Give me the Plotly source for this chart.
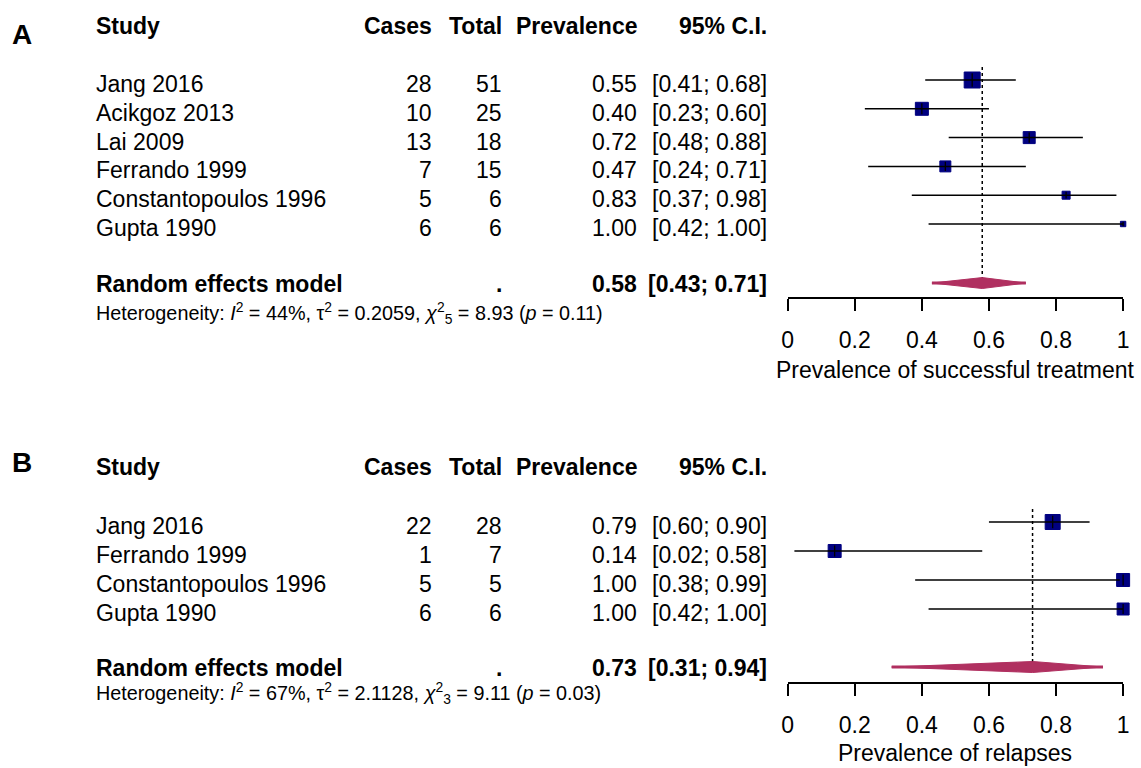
import plotly.graph_objects as go

# ---------------- Panel A data ----------------
a_studies = ["Jang 2016", "Acikgoz 2013", "Lai 2009", "Ferrando 1999",
             "Constantopoulos 1996", "Gupta 1990"]
a_cases = [28, 10, 13, 7, 5, 6]
a_total = [51, 25, 18, 15, 6, 6]
a_prev = [0.55, 0.40, 0.72, 0.47, 0.83, 1.00]
a_lo = [0.41, 0.23, 0.48, 0.24, 0.37, 0.42]
a_hi = [0.68, 0.60, 0.88, 0.71, 0.98, 1.00]
a_weight = [32.7, 21.6, 18.4, 15.4, 8.2, 3.7]
a_re = [0.58, 0.43, 0.71]
a_het = ["44%", "0.2059", "5", "8.93", "0.11"]
a_xtitle = "Prevalence of successful treatment"

# ---------------- Panel B data ----------------
b_studies = ["Jang 2016", "Ferrando 1999", "Constantopoulos 1996", "Gupta 1990"]
b_cases = [22, 1, 5, 6]
b_total = [28, 7, 5, 6]
b_prev = [0.79, 0.14, 1.00, 1.00]
b_lo = [0.60, 0.02, 0.38, 0.42]
b_hi = [0.90, 0.58, 0.99, 1.00]
b_weight = [31.8, 23.9, 23.9, 20.4]
b_re = [0.73, 0.31, 0.94]
b_het = ["67%", "2.1128", "3", "9.11", "0.03"]
b_xtitle = "Prevalence of relapses"

headers = ["Study", "Cases", "Total", "Prevalence", "95% C.I."]
tick_vals = [0, 0.2, 0.4, 0.6, 0.8, 1]
tick_text = ["0", "0.2", "0.4", "0.6", "0.8", "1"]

# ---------------- style / layout ----------------
W, H = 1141, 768
FONT = "Liberation Sans, Arial, sans-serif"
NAVY = "#000080"
MAROON = "#B03060"
FS = 23
X0, X1 = 790, 1129  # pixel extent of the 0..1 axes

def px(x):
    return x / W

col_study = px(89)
col_cases = px(433)
col_total = px(503)
col_prev = px(640)
col_ci = px(771)

fig = go.Figure()
annotations = []

def panel(studies, cases, total, prev, lo, hi, weight, re, het, xtitle,
          xa, ya, yref, smax, re_row, het_y, label, label_y, xtitle_y):
    n = len(studies)
    rows = list(range(n))
    wmax = max(weight)
    sizes = [smax * (w / wmax) ** 0.5 for w in weight]

    # dotted line at pooled estimate
    fig.add_trace(go.Scatter(x=[re[0], re[0]], y=[-0.45, re_row + 0.1],
                             mode="lines", xaxis=xa, yaxis=ya,
                             line=dict(color="black", width=1.5, dash="dot"),
                             hoverinfo="skip", showlegend=False))
    # squares
    fig.add_trace(go.Scatter(x=prev, y=rows, mode="markers", xaxis=xa, yaxis=ya,
                             marker=dict(symbol="square", size=sizes, color=NAVY,
                                         opacity=1,
                                         line=dict(color=NAVY, width=1)),
                             cliponaxis=False, showlegend=False))
    # CI lines
    xs, ys = [], []
    for i in rows:
        xs += [lo[i], hi[i], None]
        ys += [i, i, None]
    fig.add_trace(go.Scatter(x=xs, y=ys, mode="lines", xaxis=xa, yaxis=ya,
                             line=dict(color="black", width=1.5),
                             cliponaxis=False, showlegend=False))
    # small vertical tick at estimate
    fig.add_trace(go.Scatter(x=prev, y=rows, mode="markers", xaxis=xa, yaxis=ya,
                             marker=dict(symbol="line-ns", size=[s * 0.6 for s in sizes],
                                         opacity=1,
                                         line=dict(color="black", width=1.3)),
                             cliponaxis=False, showlegend=False))
    # diamond (with thin bar across full interval, as rendered in the original)
    h = 0.19
    fig.add_trace(go.Scatter(x=[re[1], re[2]], y=[re_row, re_row], mode="lines",
                             line=dict(color=MAROON, width=3), xaxis=xa, yaxis=ya,
                             showlegend=False))
    fig.add_trace(go.Scatter(x=[re[1], re[0], re[2], re[0], re[1]],
                             y=[re_row, re_row - h, re_row, re_row + h, re_row],
                             mode="lines", fill="toself", fillcolor=MAROON,
                             line=dict(color=MAROON, width=1), xaxis=xa, yaxis=ya,
                             showlegend=False))

    def txt(x, y, s, anchor, bold=False, size=FS, shift=-4):
        annotations.append(dict(
            x=x, y=y, xref="paper", yref=yref, text=("<b>%s</b>" % s) if bold else s,
            xanchor=anchor, yanchor="middle", showarrow=False, yshift=shift,
            font=dict(family=FONT, size=size, color="black")))

    # headers
    hy = -1.95
    txt(col_study, hy, headers[0], "left", True, shift=-2)
    txt(col_cases, hy, headers[1], "right", True, shift=-2)
    txt(col_total, hy, headers[2], "right", True, shift=-2)
    txt(col_prev, hy, headers[3], "right", True, shift=-2)
    txt(col_ci, hy, headers[4], "right", True, shift=-2)
    # study rows
    for i in rows:
        txt(col_study, i, studies[i], "left")
        txt(col_cases, i, str(cases[i]), "right")
        txt(col_total, i, str(total[i]), "right")
        txt(col_prev, i, "%.2f" % prev[i], "right")
        txt(col_ci, i, "[%.2f; %.2f]" % (lo[i], hi[i]), "right")
    # pooled row
    txt(col_study, re_row, "Random effects model", "left", True, shift=-1)
    txt(col_total, re_row, ".", "right", True, shift=-1)
    txt(col_prev, re_row, "%.2f" % re[0], "right", True, shift=-1)
    txt(col_ci, re_row, "[%.2f; %.2f]" % (re[1], re[2]), "right", True, shift=-1)
    het_s = ("Heterogeneity: <i>I</i><sup>2</sup> = %s, τ<sup>2</sup> = %s, "
             "<i>χ</i><sup>2</sup><sub>%s</sub> = %s (<i>p</i> = %s)") % tuple(het)
    annotations.append(dict(x=col_study, y=1 - het_y / H, xref="paper", yref="paper",
                            text=het_s, showarrow=False, xanchor="left",
                            yanchor="middle",
                            font=dict(family=FONT, size=19.8, color="black")))

    # panel label
    annotations.append(dict(x=px(16), y=1 - label_y / H, xref="paper", yref="paper",
                            text="<b>%s</b>" % label, showarrow=False,
                            xanchor="center", yanchor="middle",
                            font=dict(family=FONT, size=28, color="black")))
    # axis title
    annotations.append(dict(x=px((X0 + X1) / 2), y=1 - xtitle_y / H, xref="paper",
                            yref="paper", text=xtitle, showarrow=False,
                            xanchor="center", yanchor="middle",
                            font=dict(family=FONT, size=FS, color="black")))

panel(a_studies, a_cases, a_total, a_prev, a_lo, a_hi, a_weight, a_re, a_het,
      a_xtitle, "x", "y", "y", 16, 7.05, 313, "A", 35, 370)
panel(b_studies, b_cases, b_total, b_prev, b_lo, b_hi, b_weight, b_re, b_het,
      b_xtitle, "x2", "y2", "y2", 15, 5.0, 693, "B", 462, 753)

xaxis_common = dict(range=[0, 1], domain=[px(X0), px(X1)], showline=True,
                    linecolor="black", linewidth=1.5, ticks="outside", ticklen=12,
                    tickwidth=1.5, tickcolor="black", tickvals=tick_vals,
                    ticktext=tick_text, tickfont=dict(family=FONT, size=FS, color="black"),
                    ticklabelstandoff=10, showgrid=False, zeroline=False)

# row geometry: A rows at 80..224 px (28.8 px/row), axis at 297 px
a_bot, a_top = 297, 0
a_r0, a_step = 80, 28.8
# B rows at 522..609 px (29 px/row), axis at 682 px
b_bot, b_top = 682, 420
b_r0, b_step = 522, 29.0

fig.update_layout(
    width=W, height=H, margin=dict(l=0, r=0, t=0, b=0),
    paper_bgcolor="white", plot_bgcolor="white", showlegend=False,
    xaxis=dict(anchor="y", **xaxis_common),
    xaxis2=dict(anchor="y2", **xaxis_common),
    yaxis=dict(domain=[1 - a_bot / H, 1 - a_top / H],
               range=[(a_bot - a_r0) / a_step, (a_top - a_r0) / a_step],
               visible=False, showgrid=False, zeroline=False),
    yaxis2=dict(domain=[1 - b_bot / H, 1 - b_top / H],
                range=[(b_bot - b_r0) / b_step, (b_top - b_r0) / b_step],
                visible=False, showgrid=False, zeroline=False),
    annotations=annotations,
    font=dict(family=FONT, color="black"),
)

fig.write_html("out.html")
